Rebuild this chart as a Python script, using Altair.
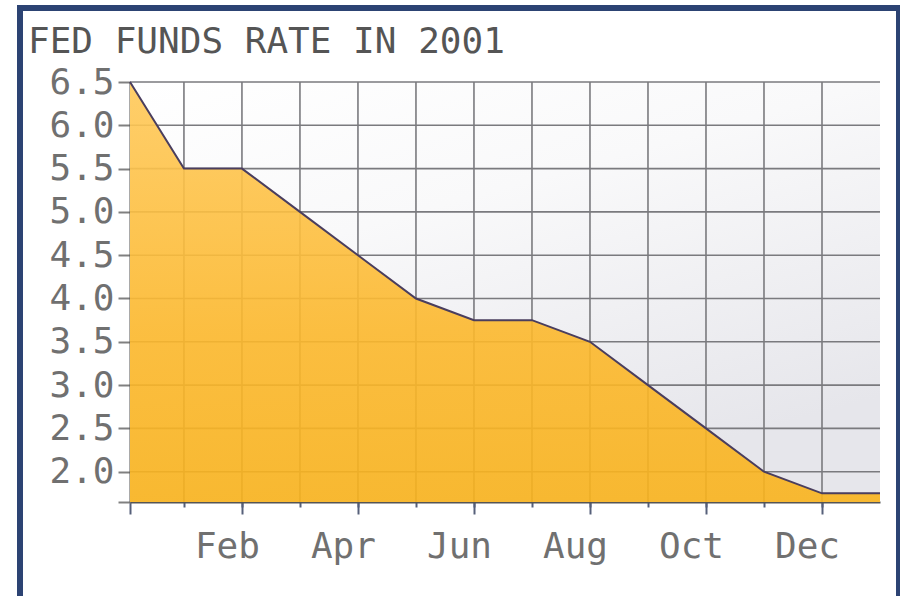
import altair as alt
import pandas as pd

# ---- data ----
title_text = "FED FUNDS RATE IN 2001"
month_pos = [0.07, 1, 2, 3, 4, 5, 6, 7, 8, 9, 10, 11, 12, 13]
rates = [6.5, 5.5, 5.5, 5.0, 4.5, 4.0, 3.75, 3.75, 3.5, 3.0, 2.5, 2.0, 1.75, 1.75]
month_names = ["", "Jan", "Feb", "Mar", "Apr", "May", "Jun",
               "Jul", "Aug", "Sep", "Oct", "Nov", "Dec"]
label_months = [2, 4, 6, 8, 10, 12]
grid_months = [1, 2, 3, 4, 5, 6, 7, 8, 9, 10, 11, 12]
y_ticks = [2.0, 2.5, 3.0, 3.5, 4.0, 4.5, 5.0, 5.5, 6.0, 6.5]
x_domain = [0.07, 13]
y_domain = [1.65, 6.5]

df = pd.DataFrame({"m": month_pos, "rate": rates})
vgrid = pd.DataFrame({"m": grid_months})
hgrid = pd.DataFrame({"v": y_ticks})

FONT = "DejaVu Sans Mono"
W, H = 750, 420

xs = alt.Scale(domain=x_domain, nice=False, zero=False)
ys = alt.Scale(domain=y_domain, nice=False, zero=False)

label_expr = "[" + ",".join("'%s'" % n for n in month_names) + "][datum.value] || ''"

bg = alt.Chart(alt.Data(values=[{}])).mark_rect(
    fill=alt.Gradient(
        gradient="linear",
        stops=[alt.GradientStop(color="#ffffff", offset=0),
               alt.GradientStop(color="#f9f9fa", offset=0.4),
               alt.GradientStop(color="#e6e6eb", offset=1)],
        x1=0, y1=0, x2=0.5, y2=1),
).encode(x=alt.value(0), x2=alt.value(W), y=alt.value(0), y2=alt.value(H))

vrules = alt.Chart(vgrid).mark_rule(color="#7a7a7e", strokeWidth=1.6).encode(
    x=alt.X("m:Q", scale=xs, axis=None),
    y=alt.value(0), y2=alt.value(H),
)
hrules = alt.Chart(hgrid).mark_rule(color="#7a7a7e", strokeWidth=1.6).encode(
    y=alt.Y("v:Q", scale=ys, axis=None),
    x=alt.value(0), x2=alt.value(W),
)

area = alt.Chart(df).mark_area(
    color=alt.Gradient(
        gradient="linear",
        stops=[alt.GradientStop(color="#ffc95a", offset=0),
               alt.GradientStop(color="#fcb82c", offset=0.6),
               alt.GradientStop(color="#f9b31c", offset=1)],
        x1=0, y1=0, x2=0, y2=1),
    opacity=0.9,
).encode(
    x=alt.X("m:Q", scale=xs, axis=alt.Axis(
        orient="bottom", values=grid_months, tickSize=5, tickWidth=2,
        tickColor="#56607a", labels=False, domain=False, grid=False, title=None)),
    y=alt.Y("rate:Q", scale=ys, axis=alt.Axis(
        orient="left", values=[y_domain[0]] + y_ticks,
        labelExpr="datum.value < 1.9 ? '' : format(datum.value, '.1f')",
        tickSize=12, tickWidth=2, tickColor="#808080",
        domainColor="#555555", domainWidth=2,
        labelFont=FONT, labelFontSize=36, labelColor="#707070",
        labelPadding=4, grid=False, title=None)),
    y2=alt.datum(y_domain[0]),
)

line = alt.Chart(df).mark_line(color="#4a3e5e", strokeWidth=2).encode(
    x=alt.X("m:Q", scale=xs, axis=alt.Axis(
        orient="bottom", values=[x_domain[0]] + label_months, labelExpr=label_expr,
        tickSize=12, tickWidth=2, tickColor="#56607a",
        domainColor="#555555", domainWidth=2,
        labelFont=FONT, labelFontSize=36, labelColor="#707070",
        labelPadding=15, labelOffset=-15, labelFlush=False, grid=False, title=None)),
    y=alt.Y("rate:Q", scale=ys, axis=None),
)

border = alt.Chart(alt.Data(values=[{}])).mark_rect(
    fill="transparent", stroke="#2c4373", strokeWidth=6,
).encode(x=alt.value(-110), x2=alt.value(769), y=alt.value(-74), y2=alt.value(560))

chart = alt.layer(bg, vrules, hrules, area, line, border).resolve_axis(
    x="independent", y="independent"
).properties(
    width=W, height=H,
    title=alt.TitleParams(title_text, anchor="start", dx=11, dy=106, offset=22,
                          baseline="alphabetic",
                          font=FONT, fontSize=36, fontWeight="normal",
                          color="#555555"),
    padding={"left": 130, "top": 82, "right": 20, "bottom": 94},
    autosize=alt.AutoSizeParams(type="none"),
    background="#ffffff",
).configure_view(stroke=None)

chart.save("out.html", embed_options={"renderer": "svg", "actions": False})
